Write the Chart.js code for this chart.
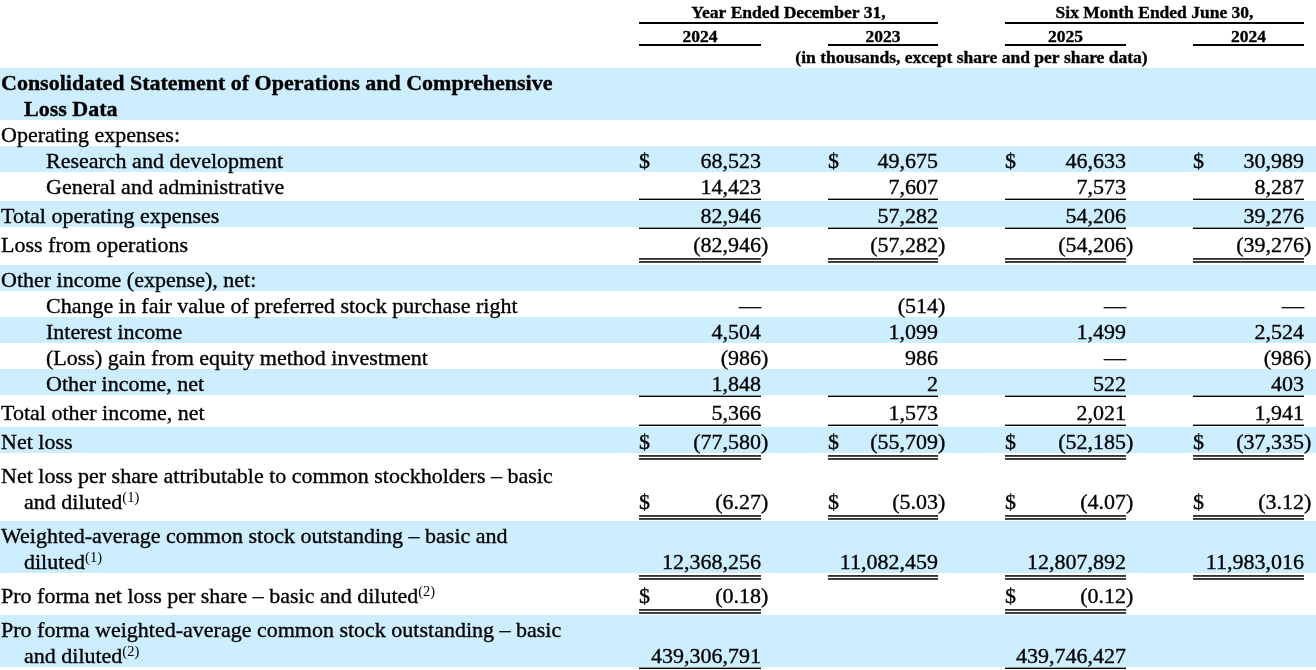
<!DOCTYPE html>
<html><head><meta charset="utf-8">
<script src="https://cdn.jsdelivr.net/npm/chart.js@4.4.1/dist/chart.umd.min.js"></script>
<style>html,body{margin:0;padding:0;background:#fff;overflow:hidden;font-family:"Liberation Serif",serif}#wrap{position:relative;width:1316px;height:670px}</style>
</head><body><div id="wrap"><canvas id="c"></canvas></div>
<script>
// ---------------- data ----------------
const groupHeaders = ['Year Ended December 31,', 'Six Month Ended June 30,'];
const periodLabels = ['2024', '2023', '2025', '2024'];
const unitNote = '(in thousands, except share and per share data)';
const rowLabels = [
  'Consolidated Statement of Operations and Comprehensive\nLoss Data',
  'Operating expenses:',
  'Research and development',
  'General and administrative',
  'Total operating expenses',
  'Loss from operations',
  'Other income (expense), net:',
  'Change in fair value of preferred stock purchase right',
  'Interest income',
  '(Loss) gain from equity method investment',
  'Other income, net',
  'Total other income, net',
  'Net loss',
  'Net loss per share attributable to common stockholders \u2013 basic\nand diluted',
  'Weighted-average common stock outstanding \u2013 basic and\ndiluted',
  'Pro forma net loss per share \u2013 basic and diluted',
  'Pro forma weighted-average common stock outstanding \u2013 basic\nand diluted'
];
const footnotes = ['', '', '', '', '', '', '', '', '', '', '', '', '', '(1)', '(1)', '(2)', '(2)'];
const year2024 = [null, null, 68523, 14423, 82946, -82946, null, 0, 4504, -986, 1848, 5366, -77580, -6.27, 12368256, -0.18, 439306791];
const year2023 = [null, null, 49675, 7607, 57282, -57282, null, -514, 1099, 986, 2, 1573, -55709, -5.03, 11082459, null, null];
const six2025  = [null, null, 46633, 7573, 54206, -54206, null, 0, 1499, 0, 522, 2021, -52185, -4.07, 12807892, -0.12, 439746427];
const six2024  = [null, null, 30989, 8287, 39276, -39276, null, 0, 2524, -986, 403, 1941, -37335, -3.12, 11983016, null, null];

// ---------------- styles / layout ----------------
const rowIndent  = [0,0,1,1,0,0,0,1,1,1,1,0,0,0,0,0,0];
const rowBold    = [1,0,0,0,0,0,0,0,0,0,0,0,0,0,0,0,0];
const rowShaded  = [1,0,1,0,1,0,1,0,1,0,1,0,1,0,1,0,1];
const rowDollar  = [0,0,1,0,0,0,0,0,0,0,0,0,1,1,0,1,0];
const rowDecimals= [0,0,0,0,0,0,0,0,0,0,0,0,0,2,0,2,0];
const rowRule    = ['', '', '', 's', 's', 'd', '', '', '', '', 's', 's', 'd', 'd', 'd', 'd', 's'];
const rowGapAfter= [0,0,0,0,0,1,0,0,0,0,0,0,0,0,0,0,0];
const columns = [year2024, year2023, six2025, six2024];
const colLeft  = [639, 828, 1005, 1193];
const colRight = [761, 938, 1126, 1304];
const LINE = 26, TOP = 68, BASE = 21.5;
const FONT = '"Liberation Serif", Tinos, "Times New Roman", serif';

// compute row geometry (in scale units)
const rowTop = [], rowBottom = [];
(function(){
  let y = TOP;
  rowLabels.forEach((lab, i) => {
    const lines = lab.split('\n').length;
    rowTop.push(y);
    y += lines * LINE;
    rowBottom.push(y);
    if (rowRule[i] === 's') y += 3;
    else if (rowRule[i] === 'd') y += 8;
    y += rowGapAfter[i];
  });
})();
const valueY = rowLabels.map((lab, i) => rowTop[i] + BASE + (lab.split('\n').length - 1) * LINE);

function fmt(v, dec) {
  if (v === 0) return {t: '\u2014', neg: false};
  const a = Math.abs(v).toLocaleString('en-US', {minimumFractionDigits: dec, maximumFractionDigits: dec});
  return v < 0 ? {t: '(' + a, neg: true} : {t: a, neg: false};
}

const datasets = columns.map((col, c) => ({
  label: periodLabels[c],
  data: col.map((v, i) => v === null ? null : {x: colRight[c], y: valueY[i], row: i}).filter(p => p),
  pointRadius: 0, showLine: false
}));

function txt(ctx, s, px, py, heavy) {
  ctx.fillText(s, px, py);
  if (heavy) ctx.strokeText(s, px, py);
}

const tablePlugin = {
  id: 'table',
  beforeDatasetsDraw(chart) {
    const {ctx, scales: {x, y}} = chart;
    ctx.save();
    ctx.fillStyle = '#CCEEFF';
    rowLabels.forEach((lab, i) => {
      if (!rowShaded[i]) return;
      const y0 = y.getPixelForValue(rowTop[i]), y1 = y.getPixelForValue(rowBottom[i]);
      ctx.fillRect(x.getPixelForValue(0), y0, x.getPixelForValue(1316) - x.getPixelForValue(0), y1 - y0);
    });
    ctx.fillStyle = '#000';
    ctx.strokeStyle = '#000';
    ctx.lineWidth = 0.35;
    ctx.textBaseline = 'alphabetic';
    ctx.font = 'bold 17.5px ' + FONT;
    ctx.textAlign = 'center';
    [[0, 1], [2, 3]].forEach((g, k) => {
      const l = colLeft[g[0]], r = colRight[g[1]];
      txt(ctx, groupHeaders[k], x.getPixelForValue((l + r) / 2), y.getPixelForValue(18), true);
      ctx.fillRect(x.getPixelForValue(l), y.getPixelForValue(22), x.getPixelForValue(r) - x.getPixelForValue(l), 2);
    });
    periodLabels.forEach((p, c) => {
      txt(ctx, p, x.getPixelForValue((colLeft[c] + colRight[c]) / 2), y.getPixelForValue(42), true);
      ctx.fillRect(x.getPixelForValue(colLeft[c]), y.getPixelForValue(44), x.getPixelForValue(colRight[c]) - x.getPixelForValue(colLeft[c]), 2);
    });
    txt(ctx, unitNote, x.getPixelForValue((colLeft[0] + colRight[3]) / 2), y.getPixelForValue(63), true);
    ctx.textAlign = 'left';
    rowLabels.forEach((lab, i) => {
      const lines = lab.split('\n');
      const f = (rowBold[i] ? 'bold ' : '') + '22px ' + FONT;
      ctx.font = f;
      lines.forEach((ln, k) => {
        const lx = k === 0 ? (rowIndent[i] ? 46 : 1) : 24;
        const by = y.getPixelForValue(rowTop[i] + BASE + k * LINE);
        const px = x.getPixelForValue(lx);
        txt(ctx, ln, px, by, true);
        if (k === lines.length - 1 && footnotes[i]) {
          const w = ctx.measureText(ln).width;
          ctx.font = '14.5px ' + FONT;
          ctx.fillText(footnotes[i], px + w, by - 7);
          ctx.font = f;
        }
      });
    });
    ctx.restore();
  },
  afterDatasetsDraw(chart) {
    const {ctx, scales: {x, y}} = chart;
    ctx.save();
    ctx.fillStyle = '#000';
    ctx.strokeStyle = '#000';
    ctx.lineWidth = 0.35;
    ctx.textBaseline = 'alphabetic';
    ctx.font = '22px ' + FONT;
    chart.data.datasets.forEach((ds, c) => {
      const meta = chart.getDatasetMeta(c);
      meta.data.forEach((el, j) => {
        const i = ds.data[j].row;
        const v = columns[c][i];
        const f = fmt(v, rowDecimals[i]);
        ctx.textAlign = 'right';
        txt(ctx, f.t, el.x, el.y, true);
        if (f.neg) { ctx.textAlign = 'left'; txt(ctx, ')', el.x, el.y, true); }
        if (rowDollar[i]) { ctx.textAlign = 'left'; txt(ctx, '$', x.getPixelForValue(colLeft[c]), el.y, true); }
        const l = x.getPixelForValue(colLeft[c]), r = el.x;
        const b = y.getPixelForValue(rowBottom[i]);
        if (rowRule[i] === 's') ctx.fillRect(l, b + 0.6, r - l, 1.4);
        if (rowRule[i] === 'd') { ctx.fillRect(l, b + 2.2, r - l, 1.5); ctx.fillRect(l, b + 5.2, r - l, 1.5); }
      });
    });
    ctx.restore();
  }
};

function build() {
  new Chart(document.getElementById('c'), {
    type: 'scatter',
    data: {datasets},
    options: {
      responsive: true, maintainAspectRatio: false, animation: false, events: [],
      layout: {padding: 0},
      plugins: {legend: {display: false}, tooltip: {enabled: false}, title: {display: false}},
      scales: {
        x: {type: 'linear', min: 0, max: 1316, display: false},
        y: {type: 'linear', min: 0, max: 670, reverse: true, display: false}
      }
    },
    plugins: [tablePlugin]
  });
}
Promise.all([
  document.fonts.load('22px "Liberation Serif"'),
  document.fonts.load('bold 22px "Liberation Serif"')
]).then(build, build);
</script>
</body></html>
